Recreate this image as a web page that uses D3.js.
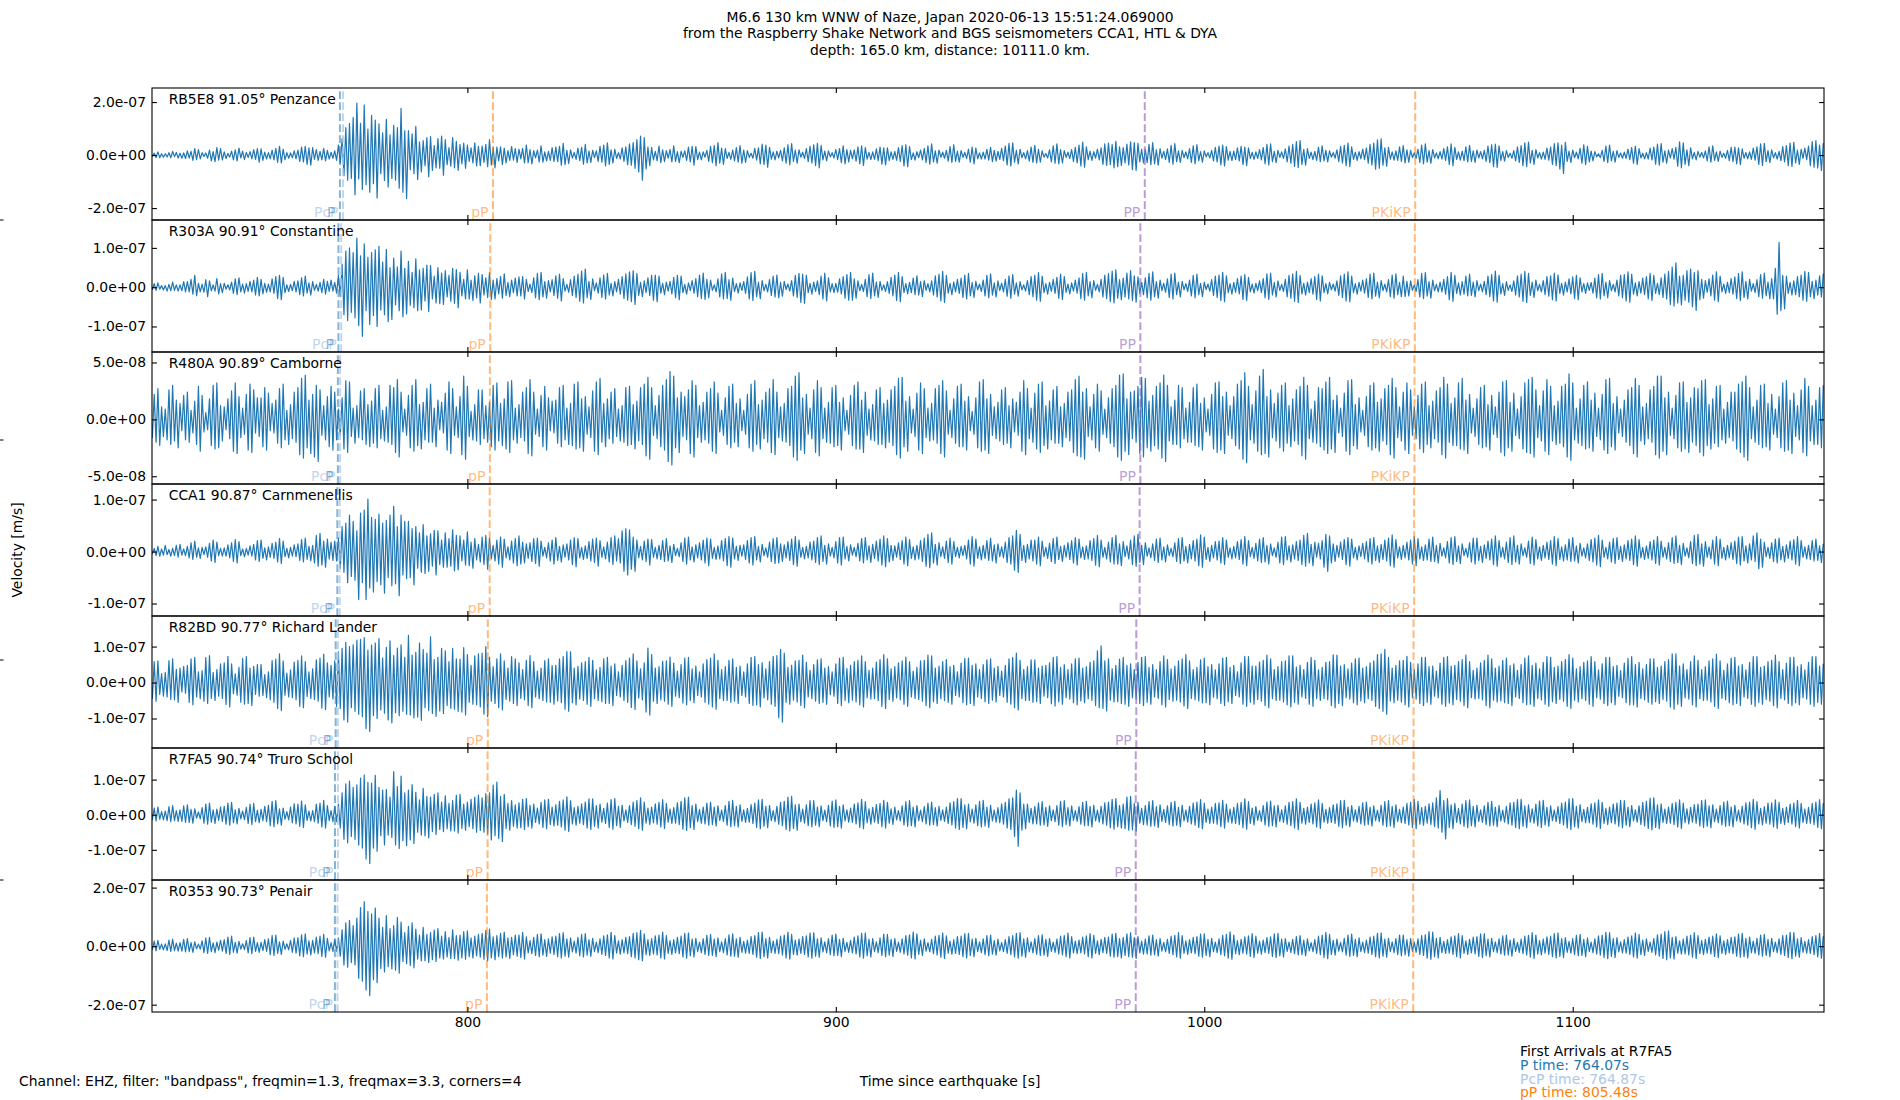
<!DOCTYPE html>
<html lang="en">
<head>
    <meta charset="utf-8">
    <title>M6.6 130 km WNW of Naze - Raspberry Shake / BGS</title>
    <script src="https://cdn.jsdelivr.net/npm/d3@7"></script>
    <style type="text/css">
        body { margin: 0; background: #fff; }
        svg { display: block; font-family: "DejaVu Sans", sans-serif; }
        .tick text { font-size: 13.9px; fill: #000; }
        .tick line { stroke: #000; stroke-width: 1.1px; }
        .frame { fill: none; stroke: #000; stroke-width: 1.1px; }
        .trace { fill: none; stroke: #1f77b4; stroke-width: 1.2px; stroke-linejoin: round; }
    </style>
</head>
<body>
    <script type="text/javascript">

        // Station labels, top to bottom
        var stationLabels = ["RB5E8 91.05\u00b0 Penzance", "R303A 90.91\u00b0 Constantine", "R480A 90.89\u00b0 Camborne",
            "CCA1 90.87\u00b0 Carnmenellis", "R82BD 90.77\u00b0 Richard Lander", "R7FA5 90.74\u00b0 Truro School", "R0353 90.73\u00b0 Penair"];

        // Traces: velocity in nm/s, one value every dt seconds starting at t0 (s since earthquake)
        // each row = 10 s
        var t0 = 714, dt = 0.5;
        var penzance = [
            6,-4,7,-9,12,-10,5,-8,5,-7,9,-10,14,-6,10,-11,7,-12,8,-13,
            16,-11,14,-20,24,-17,21,-14,9,-5,8,-12,19,-22,13,-25,28,-19,24,-18,
            12,-13,6,-8,15,-18,20,-22,26,-11,15,-17,10,-9,13,-14,21,-16,24,-27,
            23,-20,11,-15,9,-14,19,-18,25,-28,33,-30,22,-17,9,-12,8,-10,16,-14,
            19,-24,30,-26,33,-35,27,-38,28,-16,21,-20,14,-18,25,-22,18,-15,10,-12,
            16,-20,38,-30,62,-78,104,-95,120,-88,142,-150,196,-90,120,-130,189,-112,98,-140,
            150,-108,132,-162,118,-70,84,-96,135,-120,76,-88,112,-95,104,-125,176,-140,92,-164,
            92,-55,80,-70,108,-92,50,-64,55,-40,66,-82,70,-58,36,-48,62,-50,72,-76,
            58,-36,28,-42,66,-48,52,-58,40,-33,45,-50,38,-24,27,-30,46,-41,33,-40,
            34,-28,40,-44,58,-37,29,-48,30,-22,31,-36,26,-30,17,-20,32,-19,24,-28,
            22,-14,25,-30,38,-29,21,-33,17,-11,19,-26,35,-27,12,-22,14,-20,28,-24,
            30,-25,33,-38,44,-36,18,-32,20,-12,10,-16,26,-21,29,-34,40,-30,15,-28,
            18,-10,16,-24,33,-27,38,-41,46,-35,20,-30,22,-13,9,-15,27,-24,31,-36,
            42,-38,47,-50,58,-64,72,-95,66,-52,30,-40,28,-18,14,-22,34,-29,20,-25,
            17,-12,21,-26,35,-24,13,-29,14,-9,16,-20,30,-26,33,-38,32,-17,11,-18,
            12,-8,18,-24,33,-29,36,-40,47,-31,26,-35,24,-13,10,-16,19,-22,28,-27,
            36,-31,19,-28,17,-9,7,-12,25,-19,27,-33,41,-35,38,-46,29,-15,12,-18,
            15,-11,18,-22,27,-31,39,-36,43,-24,19,-31,20,-8,11,-13,24,-25,33,-30,
            39,-40,44,-48,37,-18,15,-22,16,-7,9,-11,21,-17,24,-29,35,-33,21,-26,
            18,-14,20,-23,31,-33,35,-39,28,-15,10,-17,12,-16,23,-21,30,-34,27,-37,
            27,-21,12,-16,14,-20,28,-24,36,-41,39,-44,32,-17,8,-19,13,-10,19,-18,
            25,-28,35,-34,42,-26,16,-31,19,-8,11,-12,18,-23,32,-28,39,-24,15,-27,
            17,-9,10,-13,22,-27,30,-33,26,-14,8,-15,11,-15,22,-19,29,-25,18,-23,
            14,-16,25,-21,34,-37,44,-41,46,-27,18,-33,22,-10,9,-14,17,-23,30,-28,
            37,-30,22,-27,16,-8,6,-11,20,-26,35,-31,42,-33,21,-30,17,-9,11,-13,
            21,-24,29,-30,38,-41,49,-46,31,-17,15,-20,13,-12,22,-18,27,-35,42,-39,
            45,-36,40,-48,52,-44,31,-39,28,-30,41,-37,50,-55,47,-58,44,-26,22,-30,
            22,-29,40,-36,47,-33,20,-38,24,-12,14,-17,23,-28,37,-34,43,-25,16,-28,
            18,-10,12,-14,24,-28,35,-33,39,-21,13,-27,16,-7,9,-11,18,-22,29,-26,
            34,-37,38,-41,32,-19,14,-21,15,-17,27,-22,33,-36,30,-40,27,-13,10,-16,
            12,-13,21,-18,28,-33,40,-37,42,-25,14,-29,18,-9,12,-13,23,-26,34,-31,
            40,-43,51,-47,55,-35,22,-38,24,-13,11,-17,14,-20,30,-25,35,-22,18,-26,
            16,-8,9,-12,20,-25,33,-30,37,-40,45,-43,31,-16,11,-20,13,-14,22,-17,
            26,-31,40,-37,45,-53,57,-50,61,-38,27,-42,29,-15,12,-19,16,-20,31,-24,
            36,-30,20,-27,18,-10,9,-13,22,-28,38,-33,42,-27,17,-31,21,-11,8,-14,
            13,-15,24,-20,31,-35,42,-40,29,-16,12,-19,15,-21,31,-26,37,-24,16,-28,
            19,-11,13,-14,18,-24,34,-29,39,-44,41,-47,35,-20,13,-23,17,-9,7,-12,
            17,-22,31,-28,36,-40,46,-44,49,-30,18,-35,21,-11,9,-15,11,-16,26,-19,
            30,-35,43,-40,46,-52,38,-69,48,-24,15,-28,19,-10,11,-14,25,-31,39,-36,
            33,-26,15,-22,13,-7,5,-10,18,-24,34,-29,38,-22,14,-27,17,-9,8,-12,
            11,-13,22,-17,28,-31,33,-35,24,-11,7,-14,9,-15,26,-18,30,-34,41,-38,
            43,-27,16,-31,19,-12,24,-15,29,-42,50,-48,46,-35,20,-40,27,-14,10,-18,
            14,-8,10,-11,16,-22,31,-27,35,-20,12,-24,15,-9,7,-12,18,-21,29,-25,
            30,-33,27,-36,23,-12,9,-14,12,-16,26,-19,31,-35,42,-39,44,-25,17,-29,
            20,-11,9,-15,14,-21,32,-26,36,-40,45,-43,48,-30,19,-35,22,-13,26,-17,
            34,-40,51,-46,55,-49,38,-58,45];
        var constantine = [
            5,-6,9,-8,11,-5,4,-7,4,-10,7,-9,13,-8,6,-10,6,-9,14,-12,
            14,-12,20,-18,30,-22,10,-12,8,-13,19,-24,16,-9,6,-10,22,-17,9,-14,
            10,-5,6,-7,13,-16,21,-19,24,-12,8,-15,9,-11,15,-12,18,-20,25,-22,
            20,-17,10,-13,8,-12,21,-16,27,-29,30,-32,25,-14,6,-11,7,-9,15,-12,
            16,-19,24,-22,28,-15,11,-20,14,-8,7,-10,12,-14,20,-18,15,-11,18,-10,
            12,-15,30,-24,58,-70,92,-85,100,-64,88,-78,125,-98,80,-125,110,-60,76,-95,
            88,-72,95,-100,104,-58,64,-70,96,-88,50,-82,74,-45,52,-60,92,-75,48,-68,
            66,-46,38,-52,72,-60,44,-58,48,-35,56,-62,55,-30,28,-40,50,-42,36,-44,
            42,-25,30,-36,48,-41,45,-52,38,-22,20,-30,44,-30,18,-34,29,-27,35,-40,
            32,-20,24,-26,37,-31,18,-30,22,-17,27,-28,34,-21,12,-24,18,-14,23,-22,
            26,-22,27,-30,20,-11,8,-14,24,-27,35,-32,38,-25,14,-28,17,-12,19,-21,
            29,-28,33,-35,22,-10,7,-13,19,-21,28,-26,33,-36,41,-40,46,-27,15,-31,
            21,-9,11,-15,24,-26,31,-30,35,-20,10,-22,14,-12,20,-18,27,-29,34,-33,
            39,-37,42,-44,35,-21,12,-24,16,-14,24,-21,30,-33,31,-37,28,-15,10,-19,
            13,-10,15,-17,25,-27,30,-32,28,-14,7,-18,11,-9,17,-15,22,-24,31,-29,
            36,-31,20,-27,18,-8,6,-12,21,-25,34,-30,38,-29,19,-33,23,-11,9,-15,
            11,-8,14,-16,26,-30,37,-34,40,-24,13,-29,17,-9,7,-12,19,-21,28,-25,
            31,-27,12,-23,15,-6,8,-10,17,-22,30,-26,35,-39,33,-41,30,-14,10,-18,
            13,-11,16,-19,28,-30,36,-35,24,-12,9,-14,10,-13,21,-17,27,-28,32,-33,
            38,-33,21,-28,16,-9,7,-11,20,-24,32,-29,36,-22,13,-26,15,-8,6,-11,
            14,-16,25,-22,31,-34,38,-37,27,-14,9,-17,12,-14,23,-19,29,-20,14,-24,
            17,-8,9,-12,16,-20,29,-25,33,-35,40,-39,30,-15,10,-19,13,-12,20,-16,
            23,-26,31,-30,35,-22,12,-26,15,-7,8,-11,18,-22,30,-27,34,-20,11,-25,
            16,-9,10,-12,20,-23,29,-28,32,-18,11,-23,14,-7,6,-10,17,-19,27,-24,
            30,-33,37,-36,28,-14,9,-18,12,-11,20,-16,25,-28,33,-31,27,-13,8,-17,
            11,-10,18,-15,24,-29,35,-33,38,-22,14,-27,17,-8,7,-12,20,-25,31,-29,
            35,-37,41,-40,44,-28,19,-32,23,-25,36,-30,42,-34,29,-38,26,-15,12,-19,
            24,-27,35,-33,39,-24,14,-28,18,-9,10,-13,21,-26,33,-30,36,-19,13,-25,
            15,-7,9,-11,18,-22,30,-27,33,-19,10,-24,13,-6,8,-10,19,-21,28,-26,
            31,-34,38,-37,29,-14,9,-18,12,-13,22,-17,28,-31,32,-34,25,-12,8,-15,
            10,-9,16,-14,22,-27,34,-31,36,-20,12,-25,16,-8,7,-11,20,-24,30,-28,
            34,-36,40,-39,30,-17,10,-20,13,-14,22,-18,27,-31,33,-35,29,-14,9,-17,
            12,-7,8,-10,16,-21,29,-26,33,-35,39,-37,28,-14,9,-18,12,-10,18,-15,
            21,-26,33,-30,36,-23,13,-27,17,-9,8,-12,19,-24,31,-28,34,-19,12,-24,
            28,-24,15,-22,16,-8,6,-11,19,-25,35,-29,37,-23,14,-28,18,-9,7,-12,
            13,-12,20,-18,27,-32,38,-36,30,-16,11,-20,14,-18,28,-22,33,-21,13,-25,
            17,-9,8,-12,15,-19,28,-24,32,-35,41,-38,30,-17,9,-21,14,-8,6,-11,
            16,-20,29,-25,33,-36,40,-39,35,-21,13,-26,18,-9,7,-12,17,-19,27,-23,
            29,-32,36,-35,31,-16,10,-20,13,-12,21,-17,26,-29,30,-32,24,-12,9,-16,
            11,-8,12,-15,23,-27,32,-30,35,-22,13,-27,17,-9,7,-12,18,-22,30,-27,
            32,-35,39,-38,33,-18,11,-22,14,-15,23,-19,27,-30,35,-34,30,-16,10,-19,
            24,-26,33,-30,40,-44,51,-48,62,-40,28,-45,30,-33,42,-38,46,-50,37,-59,
            42,-32,20,-28,17,-13,21,-22,31,-33,39,-37,28,-12,8,-16,12,-14,22,-18,
            26,-29,35,-34,39,-26,15,-30,20,-10,9,-14,19,-24,32,-28,36,-22,13,-29,
            22,-30,48,-69,114,-60,30,-55,28,-16,12,-20,16,-19,27,-24,31,-33,40,-36,
            38,-24,15,-29,18,-20,29,-25,34];
        var camborne = [
            12,-16,22,-20,27,-23,11,-15,9,-18,26,-22,30,-19,17,-25,14,-10,21,-18,
            24,-20,8,-12,16,-22,29,-28,21,-11,6,-9,18,-23,30,-26,32,-25,12,-19,
            11,-9,18,-17,25,-28,32,-30,20,-16,10,-13,22,-27,31,-29,26,-12,19,-15,
            19,-24,28,-27,23,-10,14,-12,17,-21,27,-25,31,-18,8,-22,13,-17,24,-20,
            28,-31,36,-34,39,-25,17,-30,22,-33,30,-37,26,-14,12,-18,20,-24,29,-27,
            24,-18,9,-14,19,-26,34,-29,33,-15,10,-21,12,-16,25,-18,27,-22,13,-24,
            16,-21,27,-25,30,-17,8,-19,11,-20,30,-22,28,-29,35,-33,24,-11,9,-14,
            21,-25,30,-28,35,-23,13,-26,15,-18,27,-20,31,-20,10,-24,17,-9,15,-12,
            23,-27,33,-30,27,-14,11,-16,20,-31,38,-35,29,-15,7,-18,13,-19,26,-22,
            26,-17,12,-20,15,-24,30,-27,32,-19,14,-23,18,-26,33,-29,34,-18,10,-21,
            13,-16,24,-19,28,-30,35,-32,24,-13,9,-15,21,-24,29,-27,19,-10,16,-12,
            17,-21,28,-24,30,-18,10,-22,14,-23,31,-26,33,-25,18,-28,20,-13,11,-16,
            25,-28,33,-31,36,-20,14,-24,18,-17,24,-21,27,-15,9,-19,12,-20,28,-23,
            29,-22,13,-26,16,-19,28,-22,31,-32,37,-35,28,-14,12,-17,21,-24,30,-27,
            35,-37,42,-40,38,-25,19,-29,24,-15,20,-18,26,-30,34,-33,30,-16,12,-20,
            15,-18,24,-21,27,-28,33,-30,23,-11,8,-14,19,-22,29,-25,31,-20,14,-24,
            18,-10,8,-13,22,-25,31,-28,34,-22,13,-26,17,-17,24,-20,27,-29,35,-31,
            24,-16,11,-19,14,-20,27,-23,29,-33,38,-36,41,-27,19,-30,22,-13,10,-17,
            26,-29,34,-32,28,-17,10,-20,15,-21,28,-24,30,-23,15,-27,19,-10,8,-13,
            21,-23,30,-26,33,-26,17,-29,24,-14,9,-18,13,-19,26,-22,28,-22,14,-25,
            17,-20,26,-23,29,-31,36,-34,37,-24,16,-28,20,-12,9,-15,23,-27,32,-30,
            27,-16,10,-19,14,-18,27,-21,30,-30,34,-33,25,-13,8,-16,18,-21,29,-24,
            31,-24,16,-27,20,-10,7,-13,19,-25,33,-28,35,-27,18,-30,22,-14,11,-17,
            15,-19,26,-22,28,-21,12,-25,18,-11,15,-14,24,-28,34,-31,27,-17,10,-20,
            23,-26,31,-29,33,-23,12,-26,16,-18,26,-21,29,-21,11,-24,14,-16,24,-19,
            26,-29,35,-32,38,-33,24,-35,27,-15,11,-18,22,-25,31,-28,25,-13,9,-16,
            19,-21,27,-24,30,-33,39,-36,40,-28,18,-31,24,-17,25,-20,29,-30,37,-33,
            36,-25,16,-28,21,-23,29,-26,32,-34,39,-37,30,-19,11,-22,17,-22,30,-25,
            28,-17,10,-20,15,-20,28,-23,31,-24,14,-27,19,-11,9,-14,22,-26,32,-29,
            33,-27,20,-30,24,-14,12,-17,20,-23,31,-26,34,-35,41,-38,29,-18,13,-21,
            25,-28,38,-31,44,-30,20,-33,26,-16,14,-19,23,-25,30,-28,32,-21,12,-24,
            18,-19,26,-22,29,-32,37,-35,30,-17,9,-20,16,-21,28,-24,27,-27,33,-30,
            37,-26,17,-29,21,-12,10,-15,23,-28,34,-31,35,-23,13,-26,19,-11,8,-14,
            20,-24,30,-27,32,-25,15,-28,18,-19,27,-22,30,-31,36,-34,28,-16,11,-19,
            24,-27,32,-30,26,-14,11,-17,21,-26,31,-29,33,-22,12,-25,16,-17,25,-20,
            28,-31,37,-34,31,-20,14,-23,19,-23,32,-26,36,-27,17,-30,22,-12,10,-15,
            18,-22,28,-25,30,-24,13,-27,21,-13,11,-16,24,-29,33,-32,34,-25,15,-28,
            23,-14,9,-17,20,-26,32,-29,35,-30,37,-33,26,-16,12,-19,25,-28,35,-31,
            29,-19,12,-22,16,-21,29,-24,31,-33,40,-36,32,-18,10,-21,18,-23,30,-26,
            33,-25,17,-28,23,-15,10,-18,22,-27,35,-30,36,-24,14,-27,20,-12,9,-15,
            17,-20,26,-23,28,-30,36,-33,30,-19,11,-22,14,-17,26,-20,29,-31,38,-34,
            38,-28,19,-31,24,-14,10,-17,21,-25,32,-28,33,-26,15,-29,19,-20,28,-23,
            27,-29,34,-32,35,-23,13,-26,18,-21,29,-24,30,-18,9,-21,15,-16,24,-19,
            24,-26,31,-29,33,-33,38,-36,28,-17,11,-20,17,-22,30,-25,31,-24,14,-27,
            22,-13,9,-16,20,-25,32,-28,34,-27,17,-30,23,-15,12,-18,26,-29,36,-32,
            29,-19,12,-22,17,-22,28,-25,30];
        var carnmenellis = [
            5,-4,6,-8,10,-9,5,-7,12,-6,4,-9,6,-8,12,-11,14,-7,5,-8,
            10,-12,17,-15,20,-11,7,-13,8,-6,9,-11,16,-18,22,-21,18,-8,6,-9,
            7,-9,13,-12,17,-19,23,-22,19,-8,5,-10,6,-7,11,-9,14,-16,21,-19,
            22,-13,7,-16,9,-11,16,-13,18,-20,25,-23,20,-10,6,-12,8,-9,13,-10,
            15,-17,23,-20,26,-15,10,-18,12,-22,31,-28,35,-26,20,-30,24,-14,18,-17,
            20,-18,26,-32,48,-40,55,-60,70,-48,58,-55,40,-92,74,-60,80,-92,101,-70,
            66,-78,62,-58,72,-64,55,-80,60,-50,70,-66,87,-62,48,-85,70,-45,58,-52,
            58,-50,44,-64,48,-32,36,-40,52,-42,30,-38,34,-28,41,-45,40,-25,22,-30,
            36,-30,25,-28,42,-37,31,-35,30,-18,22,-26,38,-27,18,-32,25,-16,14,-20,
            28,-25,31,-34,26,-14,12,-18,22,-24,28,-30,24,-12,9,-16,20,-22,25,-27,
            30,-24,18,-22,15,-13,17,-19,25,-23,26,-28,20,-9,8,-12,17,-18,22,-24,
            27,-17,10,-20,13,-11,15,-16,22,-25,27,-29,25,-12,8,-15,11,-13,19,-18,
            24,-21,26,-28,21,-11,9,-14,18,-20,27,-25,30,-18,25,-22,40,-38,44,-45,
            42,-34,28,-38,22,-12,10,-16,20,-19,24,-26,23,-11,8,-14,12,-15,21,-19,
            25,-18,11,-21,14,-8,6,-10,17,-19,26,-24,28,-16,9,-20,13,-12,17,-16,
            22,-22,26,-27,24,-13,8,-15,11,-14,21,-18,25,-27,29,-30,26,-14,10,-17,
            12,-9,13,-15,21,-22,27,-26,29,-16,10,-20,14,-8,7,-11,18,-19,25,-23,
            27,-22,15,-19,13,-12,19,-17,24,-25,29,-28,22,-11,8,-14,10,-12,18,-16,
            20,-21,27,-25,30,-19,12,-24,15,-9,8,-12,19,-22,27,-26,28,-14,10,-18,
            13,-7,8,-10,16,-18,25,-22,27,-16,11,-21,14,-13,20,-18,24,-26,30,-29,
            25,-20,12,-17,11,-11,17,-15,21,-24,28,-27,23,-13,9,-16,12,-14,21,-19,
            26,-28,33,-31,36,-22,14,-26,17,-10,9,-13,20,-21,26,-24,19,-10,8,-12,
            10,-8,12,-14,22,-24,29,-28,24,-13,9,-16,12,-13,21,-17,26,-18,13,-22,
            15,-10,9,-12,18,-21,27,-24,30,-36,41,-40,33,-17,12,-21,14,-14,22,-18,
            22,-24,28,-27,20,-10,8,-13,16,-19,25,-23,28,-15,10,-19,12,-11,17,-15,
            21,-22,27,-26,24,-12,9,-15,11,-14,21,-17,25,-26,31,-29,22,-11,8,-14,
            18,-20,27,-24,31,-24,15,-27,19,-10,11,-14,22,-25,30,-28,33,-21,12,-25,
            17,-9,7,-12,15,-17,24,-21,26,-16,9,-20,13,-8,6,-10,17,-19,25,-23,
            27,-18,10,-22,14,-14,21,-18,24,-27,32,-30,28,-15,8,-19,12,-12,19,-16,
            20,-22,27,-25,22,-11,7,-14,10,-12,19,-15,23,-24,29,-27,21,-10,8,-13,
            16,-18,24,-21,27,-20,12,-24,15,-8,7,-11,18,-22,28,-25,29,-16,11,-20,
            13,-14,19,-17,22,-25,31,-28,35,-22,14,-27,18,-11,16,-14,21,-30,33,-38,
            30,-22,15,-19,12,-11,18,-15,23,-25,27,-28,24,-12,8,-16,11,-10,16,-14,
            19,-20,25,-24,27,-17,11,-21,14,-15,22,-18,26,-27,32,-30,23,-12,9,-15,
            12,-12,18,-16,22,-24,29,-27,25,-14,9,-17,13,-16,24,-19,28,-19,12,-22,
            16,-9,7,-12,19,-22,27,-25,29,-19,11,-23,15,-8,6,-11,17,-20,26,-24,
            26,-17,10,-21,13,-13,20,-16,24,-25,30,-28,21,-11,8,-14,18,-21,27,-25,
            30,-20,12,-24,15,-8,7,-11,20,-23,28,-26,23,-14,9,-17,12,-12,18,-15,
            21,-24,29,-27,25,-15,9,-18,13,-16,24,-19,27,-18,11,-22,16,-9,7,-12,
            15,-17,23,-20,26,-26,31,-29,22,-11,8,-14,18,-20,25,-23,27,-15,10,-19,
            13,-14,21,-17,24,-25,30,-28,23,-12,8,-15,11,-13,19,-16,22,-23,29,-26,
            20,-11,8,-14,17,-19,27,-23,30,-21,12,-25,16,-9,7,-12,19,-23,31,-27,
            33,-24,15,-28,19,-11,9,-14,22,-24,29,-27,24,-13,8,-16,12,-12,17,-15,
            20,-23,28,-26,29,-18,11,-22,15,-16,30,-19,36,-33,24,-30,18,-10,8,-13,
            17,-19,24,-22,26,-16,10,-20,13,-13,20,-16,23,-24,29,-27,21,-11,9,-14,
            12,-15,21,-18,24,-17,11,-21,15];
        var richardLander = [
            35,-44,58,-52,60,-33,25,-38,28,-40,61,-47,66,-48,37,-55,40,-26,45,-30,
            48,-55,66,-62,70,-40,30,-45,33,-52,69,-58,75,-44,28,-50,36,-38,52,-44,
            55,-61,73,-68,52,-31,24,-35,42,-55,67,-60,72,-58,40,-64,45,-33,50,-38,
            50,-36,22,-42,30,-48,61,-55,65,-72,80,-78,60,-35,26,-40,35,-42,57,-48,
            62,-66,74,-70,58,-39,30,-44,38,-47,63,-52,68,-71,79,-75,55,-40,48,-46,
            60,-66,85,-72,95,-104,112,-110,100,-70,105,-80,118,-88,120,-95,125,-128,90,-136,
            104,-92,110,-100,122,-76,68,-85,98,-104,116,-112,75,-84,96,-92,105,-80,70,-88,
            131,-90,76,-98,84,-96,110,-105,92,-70,82,-78,127,-86,64,-94,70,-79,95,-86,
            88,-64,58,-72,95,-74,66,-80,65,-82,97,-90,78,-55,48,-60,74,-62,80,-68,
            82,-88,100,-95,70,-52,44,-58,66,-70,80,-76,60,-47,40,-52,72,-58,66,-64,
            55,-44,36,-48,62,-64,75,-70,58,-40,32,-45,40,-50,61,-54,66,-55,47,-60,
            48,-51,66,-56,72,-74,86,-80,85,-56,40,-62,45,-46,55,-50,58,-60,70,-66,
            62,-45,35,-50,42,-53,66,-58,70,-58,46,-64,52,-36,30,-40,48,-50,61,-55,
            68,-69,80,-75,60,-43,38,-48,55,-82,96,-90,78,-52,40,-58,44,-48,59,-52,
            60,-60,71,-66,54,-38,32,-42,50,-57,68,-62,70,-50,38,-56,46,-36,30,-40,
            52,-55,64,-60,68,-68,80,-74,62,-45,36,-50,44,-50,62,-55,66,-52,42,-58,
            46,-36,30,-40,52,-58,70,-64,72,-62,50,-68,55,-43,38,-48,58,-60,73,-66,
            75,-98,92,-110,82,-55,42,-60,48,-49,60,-54,62,-64,76,-70,56,-40,34,-45,
            50,-52,63,-58,66,-55,40,-60,44,-34,30,-38,52,-58,68,-64,70,-50,39,-56,
            48,-49,58,-54,62,-62,74,-68,58,-42,34,-46,40,-45,57,-50,64,-66,78,-72,
            66,-47,38,-52,44,-43,55,-48,60,-60,71,-66,58,-40,32,-44,42,-47,60,-52,
            62,-64,76,-70,74,-53,40,-58,46,-45,58,-50,64,-55,44,-60,48,-36,30,-40,
            54,-56,67,-62,68,-58,48,-64,52,-40,36,-44,50,-53,63,-58,66,-49,40,-54,
            45,-36,32,-40,48,-55,66,-60,70,-70,82,-76,62,-45,37,-50,44,-50,63,-55,
            63,-53,40,-58,46,-38,48,-42,55,-59,70,-65,72,-54,42,-60,50,-42,36,-46,
            52,-56,66,-62,68,-51,40,-56,44,-45,56,-50,60,-64,88,-70,102,-72,60,-79,
            66,-49,38,-54,48,-53,65,-58,70,-60,48,-66,52,-42,36,-46,56,-58,70,-64,
            72,-55,42,-60,50,-40,36,-44,58,-62,74,-68,64,-47,38,-52,46,-49,60,-54,
            66,-65,78,-72,60,-44,36,-48,42,-51,63,-56,68,-56,44,-62,50,-41,35,-45,
            52,-58,68,-64,70,-53,42,-58,48,-36,30,-40,55,-60,73,-66,72,-55,46,-60,
            46,-47,57,-52,62,-64,76,-70,66,-45,36,-50,44,-49,58,-54,60,-62,74,-68,
            74,-55,43,-60,48,-40,36,-44,56,-60,70,-66,62,-45,35,-50,42,-44,56,-48,
            58,-64,77,-70,76,-58,46,-64,50,-42,38,-46,54,-56,66,-62,68,-51,40,-56,
            44,-45,55,-50,60,-66,78,-72,80,-80,92,-88,70,-51,40,-56,48,-49,60,-54,
            62,-62,73,-68,56,-42,36,-46,52,-58,70,-64,70,-55,44,-60,46,-38,32,-42,
            54,-60,70,-66,72,-57,46,-62,48,-47,58,-52,64,-64,76,-70,58,-42,34,-46,
            40,-44,55,-48,62,-64,76,-70,66,-49,40,-54,46,-51,62,-56,68,-58,47,-64,
            52,-40,34,-44,50,-56,68,-62,74,-60,48,-66,54,-44,38,-48,56,-60,72,-66,
            70,-53,42,-58,46,-47,58,-52,64,-66,78,-72,68,-49,38,-54,44,-45,56,-50,
            60,-60,72,-66,58,-42,35,-46,52,-58,70,-64,70,-56,44,-62,48,-38,33,-42,
            54,-56,67,-62,72,-62,50,-68,56,-44,38,-48,50,-55,66,-60,66,-53,42,-58,
            46,-47,58,-52,64,-68,80,-74,80,-60,46,-66,52,-42,36,-46,58,-62,74,-68,
            62,-45,36,-50,44,-49,60,-54,66,-66,79,-72,60,-44,34,-48,52,-56,68,-62,
            70,-58,46,-64,50,-40,35,-44,56,-60,72,-66,72,-55,42,-60,46,-47,58,-52,
            62,-64,76,-70,58,-44,36,-48,54,-58,70,-64,70,-56,44,-62,50,-42,35,-46,
            56,-60,72,-66,72,-55,46,-60,52];
        var truroSchool = [
            12,-14,19,-18,22,-13,9,-15,10,-17,23,-20,26,-17,12,-19,14,-19,25,-22,
            28,-22,15,-24,17,-10,8,-12,20,-24,30,-27,33,-21,14,-25,16,-16,22,-19,
            24,-27,33,-30,35,-23,14,-26,18,-12,10,-14,21,-25,30,-28,32,-20,13,-23,
            15,-17,24,-20,27,-31,38,-34,40,-26,17,-30,19,-13,9,-15,22,-23,31,-26,
            30,-33,39,-36,28,-16,10,-18,12,-20,30,-24,33,-35,41,-38,26,-17,12,-20,
            24,-20,30,-38,62,-70,88,-80,96,-62,78,-70,85,-86,104,-95,113,-126,92,-139,
            90,-95,112,-104,78,-60,70,-86,72,-58,50,-65,123,-86,80,-96,110,-74,62,-88,
            70,-72,86,-82,64,-50,42,-58,75,-60,52,-66,50,-48,58,-56,62,-42,36,-48,
            54,-40,32,-46,40,-46,55,-52,58,-39,30,-44,36,-34,44,-40,50,-50,56,-45,
            48,-50,60,-55,62,-72,84,-60,93,-68,52,-76,58,-39,32,-44,40,-33,28,-38,
            34,-37,44,-42,46,-34,27,-38,30,-22,19,-26,35,-36,42,-40,44,-28,22,-32,
            28,-30,38,-35,42,-44,51,-48,40,-26,20,-30,24,-24,31,-28,36,-38,45,-42,
            45,-33,26,-38,30,-21,18,-25,33,-36,43,-41,46,-31,24,-36,27,-18,14,-22,
            26,-28,36,-33,40,-40,48,-44,36,-24,19,-28,22,-23,31,-27,35,-35,43,-39,
            32,-21,16,-25,20,-24,34,-28,38,-41,48,-45,50,-37,26,-42,30,-20,15,-24,
            22,-26,33,-30,36,-28,22,-32,25,-16,13,-19,26,-30,38,-34,41,-31,24,-35,
            28,-19,14,-22,18,-21,29,-25,33,-36,42,-40,44,-33,24,-37,26,-17,12,-20,
            24,-27,35,-31,38,-42,50,-46,52,-39,28,-44,30,-20,16,-24,28,-31,40,-35,
            40,-30,22,-34,25,-17,13,-20,27,-32,39,-36,42,-34,24,-38,28,-18,14,-21,
            19,-22,30,-26,34,-36,44,-40,37,-23,17,-27,21,-21,29,-25,32,-34,41,-38,
            35,-24,17,-28,22,-15,12,-18,25,-29,37,-33,40,-31,22,-35,26,-17,13,-20,
            23,-26,33,-30,36,-28,20,-32,24,-16,14,-19,22,-25,34,-29,37,-38,46,-42,
            46,-36,28,-40,30,-20,16,-24,28,-31,38,-35,41,-32,22,-36,27,-18,13,-21,
            20,-23,31,-27,35,-38,45,-42,48,-62,70,-90,62,-44,30,-40,30,-22,18,-26,
            24,-26,34,-30,37,-29,21,-33,25,-17,14,-20,26,-30,38,-34,40,-28,20,-32,
            25,-16,12,-19,23,-27,35,-31,38,-31,24,-35,27,-18,13,-21,24,-26,34,-30,
            36,-37,44,-41,46,-34,26,-38,30,-40,50,-44,52,-43,32,-47,35,-24,18,-28,
            26,-29,37,-33,40,-32,23,-36,28,-19,15,-22,25,-28,35,-32,38,-30,21,-34,
            27,-18,13,-21,24,-26,33,-30,36,-36,43,-40,33,-22,16,-25,22,-24,32,-27,
            34,-34,41,-38,30,-21,16,-24,21,-25,32,-28,35,-37,45,-41,37,-25,19,-29,
            23,-16,12,-19,26,-29,36,-33,39,-31,25,-35,27,-19,14,-22,25,-27,35,-31,
            37,-38,45,-42,35,-24,18,-27,22,-22,30,-26,34,-35,42,-39,32,-21,15,-24,
            20,-22,28,-25,31,-33,40,-37,41,-30,22,-34,26,-18,14,-21,24,-26,34,-30,
            36,-28,21,-32,25,-17,13,-20,27,-30,37,-34,40,-32,24,-36,28,-20,15,-23,
            22,-25,32,-29,35,-36,44,-40,38,-27,20,-30,24,-24,31,-28,34,-34,48,-38,
            69,-50,40,-69,46,-36,28,-40,32,-22,18,-26,30,-33,40,-37,42,-31,24,-35,
            27,-19,14,-22,25,-28,35,-32,38,-30,22,-34,26,-18,13,-21,24,-26,34,-30,
            35,-36,43,-40,44,-33,25,-37,28,-21,17,-24,30,-32,39,-36,41,-29,21,-33,
            25,-17,13,-20,23,-25,33,-29,36,-38,45,-42,46,-34,24,-38,29,-20,15,-23,
            21,-23,31,-27,34,-35,42,-39,35,-25,18,-28,22,-23,30,-26,33,-33,41,-37,
            40,-30,22,-34,26,-18,14,-21,25,-28,35,-32,38,-39,47,-43,48,-36,28,-40,
            31,-22,16,-25,22,-24,32,-28,35,-35,42,-39,33,-23,17,-26,21,-21,29,-24,
            30,-32,40,-36,42,-33,25,-37,28,-20,16,-23,26,-29,36,-33,39,-31,22,-35,
            27,-18,13,-21,24,-26,34,-30,36,-37,44,-41,37,-26,18,-29,23,-24,33,-27,
            34,-35,42,-39,35,-25,18,-28,22,-22,30,-26,33,-34,41,-38,32,-22,16,-25,
            21,-24,32,-28,36,-36,43,-40,33];
        var penair = [
            10,-12,17,-16,20,-11,7,-13,8,-15,21,-18,24,-15,10,-17,12,-17,23,-20,
            26,-19,12,-21,15,-9,7,-10,18,-22,28,-25,30,-19,11,-22,14,-14,20,-17,
            22,-25,31,-28,34,-21,13,-24,16,-10,8,-12,19,-23,29,-26,31,-18,12,-21,
            13,-15,22,-18,25,-29,36,-32,38,-25,15,-28,17,-11,8,-13,20,-21,28,-24,
            29,-33,39,-36,42,-27,18,-30,20,-23,31,-26,34,-35,40,-38,27,-16,12,-18,
            22,-18,28,-34,56,-64,80,-72,88,-56,70,-64,96,-110,132,-120,152,-150,118,-169,
            110,-115,130,-125,96,-76,64,-88,104,-70,60,-78,70,-82,98,-92,82,-52,46,-60,
            68,-66,80,-74,58,-44,38,-50,64,-50,40,-56,46,-46,55,-52,60,-40,34,-44,
            50,-37,30,-42,56,-42,36,-48,38,-40,50,-45,52,-36,28,-40,34,-33,40,-38,
            44,-45,54,-50,58,-40,32,-46,36,-36,44,-40,48,-37,28,-42,30,-29,38,-34,
            38,-39,47,-44,32,-23,19,-26,30,-32,40,-36,42,-31,22,-35,25,-24,32,-28,
            34,-36,43,-40,46,-34,25,-38,28,-20,17,-24,30,-33,40,-37,43,-31,22,-35,
            27,-19,14,-22,25,-28,35,-32,39,-40,47,-44,36,-24,18,-27,22,-23,30,-26,
            33,-36,44,-40,46,-46,54,-50,42,-29,22,-32,26,-27,35,-30,38,-40,48,-44,
            36,-25,19,-28,22,-23,30,-26,34,-37,44,-41,45,-33,24,-37,27,-19,14,-22,
            25,-28,37,-32,40,-32,24,-36,28,-19,15,-22,26,-30,39,-34,42,-34,25,-38,
            30,-21,16,-24,21,-25,33,-28,36,-38,46,-42,48,-36,26,-40,30,-22,17,-25,
            23,-26,34,-30,38,-40,48,-44,40,-28,21,-31,24,-25,33,-28,35,-37,45,-41,
            46,-34,25,-38,28,-20,15,-23,26,-29,38,-33,41,-32,23,-36,27,-18,13,-21,
            20,-23,31,-27,35,-37,44,-41,45,-33,24,-37,26,-19,15,-22,28,-32,41,-36,
            40,-31,23,-35,26,-18,14,-21,25,-27,36,-31,39,-40,48,-44,42,-28,20,-32,
            25,-17,12,-20,23,-26,34,-30,37,-38,45,-42,35,-24,17,-27,22,-25,33,-28,
            34,-36,43,-40,44,-32,24,-36,27,-19,15,-22,25,-29,36,-33,38,-27,19,-31,
            24,-16,12,-19,22,-25,33,-29,36,-37,44,-41,46,-34,25,-38,28,-20,15,-23,
            26,-28,36,-32,39,-31,23,-35,26,-18,14,-21,24,-27,34,-30,36,-36,45,-40,
            33,-23,17,-26,21,-23,31,-27,35,-36,43,-40,37,-25,18,-29,23,-22,30,-25,
            31,-34,41,-38,44,-36,26,-40,30,-32,42,-36,46,-38,29,-42,33,-23,17,-27,
            24,-27,35,-31,38,-30,22,-34,26,-17,13,-20,23,-25,34,-29,37,-37,46,-41,
            36,-25,18,-28,22,-23,30,-26,33,-34,41,-38,42,-32,23,-36,27,-19,14,-22,
            25,-29,37,-33,40,-41,49,-45,38,-26,19,-29,23,-24,32,-27,35,-35,43,-39,
            34,-24,17,-27,21,-22,29,-25,32,-35,42,-39,44,-33,24,-37,26,-18,14,-21,
            23,-26,33,-30,36,-29,21,-33,25,-16,12,-19,22,-25,34,-29,38,-39,47,-43,
            40,-28,20,-31,24,-17,13,-20,27,-31,38,-35,41,-32,23,-36,28,-19,14,-22,
            21,-24,31,-28,34,-36,44,-40,45,-34,24,-38,27,-19,15,-22,26,-29,38,-33,
            38,-30,22,-34,26,-18,14,-21,25,-28,36,-32,39,-41,50,-45,48,-36,27,-40,
            30,-22,16,-25,22,-24,32,-28,35,-36,43,-40,36,-25,18,-28,23,-23,31,-27,
            33,-35,42,-39,43,-33,24,-37,27,-19,15,-22,25,-27,35,-31,38,-30,21,-34,
            26,-18,13,-21,24,-26,34,-30,37,-38,46,-42,38,-27,19,-30,24,-24,32,-28,
            34,-36,43,-40,45,-35,26,-39,29,-21,16,-24,26,-29,37,-33,40,-32,23,-36,
            28,-19,14,-22,25,-27,35,-31,38,-39,47,-43,46,-35,26,-39,29,-20,15,-23,
            22,-24,31,-28,35,-37,45,-41,40,-29,21,-32,25,-18,14,-21,26,-30,39,-34,
            41,-42,50,-46,52,-40,30,-44,33,-24,18,-27,24,-27,34,-30,37,-38,46,-42,
            36,-26,19,-29,23,-24,31,-27,34,-35,42,-39,35,-25,18,-28,22,-23,30,-26,
            32,-34,41,-38,44,-36,27,-40,31,-22,17,-25,27,-30,38,-34,40,-32,23,-36,
            27,-19,14,-22,25,-28,36,-32,38,-39,47,-43,46,-34,25,-38,29,-21,16,-24,
            22,-25,33,-29,36,-37,44,-41,34];
        var traces = [penzance, constantine, camborne, carnmenellis, richardLander, truroSchool, penair];

        // y limits per panel (nm/s) and tick spacing (m/s)
        var yLow = [-245, -165, -56.8, -124, -182, -186, -225];
        var yHigh = [253, 171, 59.2, 130, 185, 190, 226];
        var yTickStep = [2e-7, 1e-7, 5e-8, 1e-7, 1e-7, 1e-7, 2e-7];

        // x axis
        var xDomain = [714.4, 1168.2];
        var xTicks = [800, 900, 1000, 1100];

        // theoretical arrival times per station (s since earthquake)
        var arrPcP = [766.25, 765.75, 765.45, 765.35, 764.85, 764.87, 764.75];
        var arrP = [765.4, 765.0, 764.85, 764.7, 764.25, 764.07, 764.05];
        var arrpP = [806.95, 806.2, 806.1, 806.05, 805.55, 805.48, 805.3];
        var arrPP = [983.85, 982.65, 982.65, 982.45, 981.55, 981.4, 981.4];
        var arrPKiKP = [1057.25, 1057.15, 1057.05, 1056.95, 1056.8, 1056.8, 1056.7];

        var phases = [
            { name: "PcP", times: arrPcP, color: "#aec7e8", alpha: 0.75 },
            { name: "P", times: arrP, color: "#1f77b4", alpha: 0.55 },
            { name: "pP", times: arrpP, color: "#ff7f0e", alpha: 0.55 },
            { name: "PP", times: arrPP, color: "#9467bd", alpha: 0.65 },
            { name: "PKiKP", times: arrPKiKP, color: "#ff7f0e", alpha: 0.55 }
        ];

        //Width and height
        var w = 1900;
        var h = 1100;
        var plotLeft = 152, plotRight = 1824, plotTop = 88, plotBottom = 1012;
        var panelH = (plotBottom - plotTop) / traces.length;

        var svg = d3.select("body")
            .append("svg")
            .attr("width", w)
            .attr("height", h);

        var x = d3.scaleLinear()
            .domain(xDomain)
            .range([plotLeft, plotRight]);

        function sci(v) {
            var parts = v.toExponential(1).split("e");
            var n = +parts[1];
            return parts[0] + "e" + (n < 0 ? "-" : "+") + String(Math.abs(n)).padStart(2, "0");
        }

        traces.forEach(function (data, i) {
            var y0 = plotTop + i * panelH;
            var y1 = y0 + panelH;

            var y = d3.scaleLinear()
                .domain([yLow[i] * 1e-9, yHigh[i] * 1e-9])
                .range([y1, y0]);

            var g = svg.append("g");

            svg.append("clipPath")
                .attr("id", "clip" + i)
                .append("rect")
                .attr("x", plotLeft)
                .attr("y", y0)
                .attr("width", plotRight - plotLeft)
                .attr("height", panelH);

            // trace
            var line = d3.line()
                .x(function (d, k) { return x(t0 + k * dt); })
                .y(function (d) { return y(d * 1e-9); });

            g.append("path")
                .datum(data)
                .attr("class", "trace")
                .attr("clip-path", "url(#clip" + i + ")")
                .attr("d", line);

            // phase arrivals
            phases.forEach(function (ph) {
                var px = x(ph.times[i]);
                g.append("line")
                    .attr("x1", px).attr("x2", px)
                    .attr("y1", y1).attr("y2", y0)
                    .attr("stroke", ph.color)
                    .attr("stroke-opacity", ph.alpha)
                    .attr("stroke-width", 2)
                    .attr("stroke-dasharray", "7.7,3.3");
                g.append("text")
                    .attr("x", px - 4.5)
                    .attr("y", y1 - 3.3)
                    .attr("text-anchor", "end")
                    .attr("font-size", "14px")
                    .attr("fill", ph.color)
                    .attr("fill-opacity", ph.alpha)
                    .text(ph.name);
            });

            // axes
            var s = yTickStep[i];
            var yt = [-s, 0, s];

            g.append("g")
                .attr("transform", "translate(" + plotLeft + ",0)")
                .call(d3.axisLeft(y).tickValues(yt).tickFormat(sci).tickSize(-4.9).tickPadding(6))
                .call(function (a) { a.select(".domain").remove(); });

            g.append("g")
                .attr("transform", "translate(" + plotRight + ",0)")
                .call(d3.axisRight(y).tickValues(yt).tickFormat("").tickSize(-4.9))
                .call(function (a) { a.select(".domain").remove(); });

            g.append("g")
                .attr("transform", "translate(0," + y0 + ")")
                .call(d3.axisTop(x).tickValues(xTicks).tickFormat("").tickSize(-4.9))
                .call(function (a) { a.select(".domain").remove(); });

            g.append("g")
                .attr("transform", "translate(0," + y1 + ")")
                .call(d3.axisBottom(x).tickValues(xTicks)
                    .tickFormat(i === traces.length - 1 ? d3.format("d") : "")
                    .tickSize(-4.9).tickPadding(4.9))
                .call(function (a) { a.select(".domain").remove(); });

            g.selectAll(".tick text").attr("font-family", "DejaVu Sans");

            g.append("rect")
                .attr("class", "frame")
                .attr("x", plotLeft)
                .attr("y", y0)
                .attr("width", plotRight - plotLeft)
                .attr("height", panelH);

            g.append("text")
                .attr("x", plotLeft + 16.7)
                .attr("y", y0 + 16)
                .attr("font-size", "13.9px")
                .text(stationLabels[i]);
        });

        // small ticks of the figure-wide axis on the left edge
        [0.2, 0.4, 0.6, 0.8].forEach(function (f) {
            svg.append("line")
                .attr("x1", 0).attr("x2", 3.5)
                .attr("y1", h * f).attr("y2", h * f)
                .attr("stroke", "#000")
                .attr("stroke-width", 1);
        });

        svg.append("text")
            .attr("transform", "translate(22,550) rotate(-90)")
            .attr("text-anchor", "middle")
            .attr("font-size", "13.9px")
            .text("Velocity [m/s]");

        // title
        var titleLines = ["M6.6 130 km WNW of Naze, Japan 2020-06-13 15:51:24.069000",
            "from the Raspberry Shake Network and BGS seismometers CCA1, HTL & DYA",
            "depth: 165.0 km, distance: 10111.0 km."];
        svg.selectAll(".title")
            .data(titleLines)
            .enter()
            .append("text")
            .attr("class", "title")
            .attr("x", w / 2)
            .attr("y", function (d, k) { return 21.5 + k * 16.5; })
            .attr("text-anchor", "middle")
            .attr("font-size", "13.9px")
            .text(function (d) { return d; });

        // footer
        svg.append("text")
            .attr("x", 19)
            .attr("y", 1085.5)
            .attr("font-size", "13.9px")
            .text("Channel: EHZ, filter: \"bandpass\", freqmin=1.3, freqmax=3.3, corners=4");

        svg.append("text")
            .attr("x", w / 2)
            .attr("y", 1085.5)
            .attr("text-anchor", "middle")
            .attr("font-size", "13.9px")
            .text("Time since earthquake [s]");

        var firstArrivals = [
            { text: "First Arrivals at R7FA5", color: "#000" },
            { text: "P time: " + arrP[5].toFixed(2) + "s", color: "#1f77b4" },
            { text: "PcP time: " + arrPcP[5].toFixed(2) + "s", color: "#aec7e8" },
            { text: "pP time: " + arrpP[5].toFixed(2) + "s", color: "#ff7f0e" }
        ];
        svg.selectAll(".arrivals")
            .data(firstArrivals)
            .enter()
            .append("text")
            .attr("class", "arrivals")
            .attr("x", 1520)
            .attr("y", function (d, k) { return 1056 + k * 13.75; })
            .attr("font-size", "13.9px")
            .attr("fill", function (d) { return d.color; })
            .text(function (d) { return d.text; });

    </script>
</body>
</html>
